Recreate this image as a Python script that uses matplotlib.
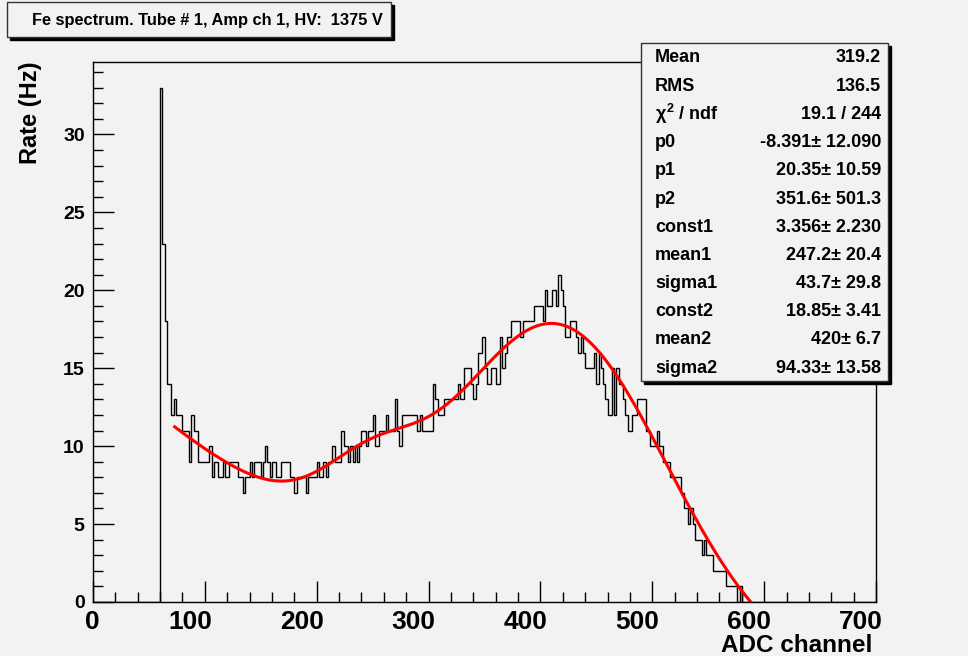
import numpy as np
import matplotlib
matplotlib.use('Agg')
import matplotlib.pyplot as plt
from matplotlib.patches import Rectangle
from matplotlib.transforms import ScaledTranslation

plt.rcParams['font.family'] = ['Liberation Sans', 'DejaVu Sans']
plt.rcParams['font.weight'] = 'bold'
plt.rcParams['mathtext.fontset'] = 'custom'
plt.rcParams['mathtext.rm'] = 'Liberation Sans:bold'
plt.rcParams['mathtext.it'] = 'Liberation Sans:bold'
plt.rcParams['mathtext.bf'] = 'Liberation Sans:bold'

BG = '#f2f2f2'
W, H = 968, 656

# === DATA ===
# histogram: 350 bins of 2 ADC channels on 0..700, first filled bin starts at ADC 60
n_bins = 350
adc_lo, adc_hi = 0, 700
first_bin = 30
rate = [
    33, 23, 18, 14, 14, 12, 13, 12, 12, 12,   # 60
    11, 11, 11, 9, 12, 11, 11, 9, 9, 9,       # 80
    9, 9, 10, 8, 9, 9, 8, 8, 9, 8,            # 100
    8, 9, 9, 9, 9, 8, 8, 7, 8, 8,             # 120
    9, 8, 9, 9, 9, 8, 9, 10, 9, 8,            # 140
    9, 9, 8, 8, 9, 9, 9, 9, 8, 8,             # 160
    7, 8, 8, 8, 8, 7, 8, 8, 8, 8,             # 180
    9, 8, 8, 9, 8, 9, 9, 10, 9, 9,            # 200
    9, 11, 10, 10, 9, 10, 9, 10, 9, 10,       # 220
    11, 11, 10, 11, 11, 12, 10, 10, 11, 11,   # 240
    11, 12, 11, 11, 11, 13, 11, 10, 12, 12,   # 260
    12, 12, 12, 12, 12, 11, 12, 11, 11, 11,   # 280
    11, 11, 14, 13, 12, 12, 12, 13, 13, 13,   # 300
    13, 13, 13, 14, 13, 13, 15, 15, 15, 14,   # 320
    13, 14, 16, 16, 17, 15, 14, 14, 15, 15,   # 340
    14, 14, 17, 15, 16, 17, 17, 18, 18, 18,   # 360
    18, 17, 18, 18, 18, 18, 18, 19, 19, 19,   # 380
    19, 18, 20, 19, 19, 20, 20, 19, 21, 20,   # 400
    19, 17, 17, 18, 18, 18, 17, 16, 17, 16,   # 420
    15, 15, 15, 15, 16, 14, 16, 15, 14, 13,   # 440
    12, 12, 15, 12, 15, 14, 14, 13, 12, 11,   # 460
    11, 12, 12, 13, 13, 13, 13, 11, 11, 10,   # 480
    10, 10, 11, 10, 10, 9, 9, 9, 8, 8,        # 500
    8, 8, 8, 7, 6, 6, 5, 6, 5, 4,             # 520
    4, 4, 3, 4, 3, 3, 3, 2, 2, 2,             # 540
    2, 2, 2, 1, 1, 1, 1, 1, 0, 1,             # 560
]

# fit result (from the stats box): expo-like background + two gaussians
p0, p1, p2 = -8.391, 20.35, 351.6
const1, mean1, sigma1 = 3.356, 247.2, 43.7
const2, mean2, sigma2 = 18.85, 420.0, 94.33
bkg_x0 = 60.0
fit_lo, fit_hi = 73.0, 600.0

stat_names = ['Mean', 'RMS', r'$\chi^{2}$ / ndf', 'p0', 'p1', 'p2', 'const1',
              'mean1', 'sigma1', 'const2', 'mean2', 'sigma2']
stat_values = ['319.2', '136.5', '19.1 / 244', '-8.391\u00b1 12.090',
               '20.35\u00b1 10.59', '351.6\u00b1 501.3', '3.356\u00b1 2.230',
               '247.2\u00b1 20.4', '43.7\u00b1 29.8', '18.85\u00b1 3.41',
               '420\u00b1 6.7', '94.33\u00b1 13.58']

title = 'Fe spectrum. Tube # 1, Amp ch 1, HV:  1375 V'

# === HISTOGRAM ===
counts = np.zeros(n_bins)
counts[first_bin:first_bin + len(rate)] = rate
edges = np.linspace(adc_lo, adc_hi, n_bins + 1)


def fit_func(x):
    bkg = p0 + p1 * np.exp(-(x - bkg_x0) / p2)
    g1 = const1 * np.exp(-0.5 * ((x - mean1) / sigma1) ** 2)
    g2 = const2 * np.exp(-0.5 * ((x - mean2) / sigma2) ** 2)
    return bkg + g1 + g2


fig = plt.figure(figsize=(W / 100, H / 100), dpi=100, facecolor=BG)
ax = fig.add_axes([93 / W, 1 - 602 / H, (876 - 93) / W, (602 - 62) / H])
ax.set_facecolor(BG)

ax.stairs(counts, edges, color='black', linewidth=1.0)
xf = np.linspace(fit_lo, fit_hi, 600)
ax.plot(xf, fit_func(xf), color='red', linewidth=2.2)

ax.set_xlim(adc_lo, adc_hi)
ax.set_ylim(0, max(rate) * 1.05)

ax.set_xticks(np.arange(0, 701, 100))
ax.set_xticks(np.arange(0, 701, 20), minor=True)
ax.set_yticks(np.arange(0, 31, 5))
ax.set_yticks(np.arange(0, 35, 1), minor=True)
ax.tick_params(which='both', direction='in', top=False, right=False)
ax.tick_params(which='major', length=15, width=1)
ax.tick_params(which='minor', length=7, width=1)
ax.tick_params(axis='x', labelsize=19, pad=6)
ax.tick_params(axis='y', labelsize=14, pad=6)
# ROOT-like label placement: x labels end just right of their tick
shift = ScaledTranslation(7 / 100, 0, fig.dpi_scale_trans)
for lab in ax.get_xticklabels():
    lab.set_fontweight('bold')
    lab.set_horizontalalignment('right')
    lab.set_transform(lab.get_transform() + shift)
for lab in ax.get_yticklabels():
    lab.set_fontweight('bold')
for s in ax.spines.values():
    s.set_linewidth(1.0)

fig.text(872 / W, 1 - 645 / H, 'ADC channel', ha='right', va='center',
         fontsize=17.5, fontweight='bold')
fig.text(31 / W, 1 - 62 / H, 'Rate (Hz)', rotation=90, ha='center', va='top',
         fontsize=17, fontweight='bold')


def shadow_box(x0, y0, x1, y1):
    fig.add_artist(Rectangle((x0 / W + 3 / W, 1 - (y1 + 3) / H),
                             (x1 - x0) / W, (y1 - y0) / H,
                             transform=fig.transFigure, facecolor='black',
                             edgecolor='black', zorder=5))
    fig.add_artist(Rectangle((x0 / W, 1 - y1 / H), (x1 - x0) / W, (y1 - y0) / H,
                             transform=fig.transFigure, facecolor=BG,
                             edgecolor='#333333', linewidth=1.0, zorder=6))


# title box
shadow_box(7, 2, 391, 37)
fig.text(207 / W, 1 - 20 / H, title, ha='center', va='center', fontsize=11.8,
         fontweight='bold', zorder=7)

# stats box
shadow_box(641, 43, 888, 381)
for i, (name, val) in enumerate(zip(stat_names, stat_values)):
    yy = 1 - (58 + i * 28.2) / H
    fig.text(655 / W, yy, name, ha='left', va='center', fontsize=13,
             fontweight='bold', zorder=7)
    fig.text(881 / W, yy, val, ha='right', va='center', fontsize=13,
             fontweight='bold', zorder=7)

fig.savefig('out.png', dpi=100, facecolor=BG)
